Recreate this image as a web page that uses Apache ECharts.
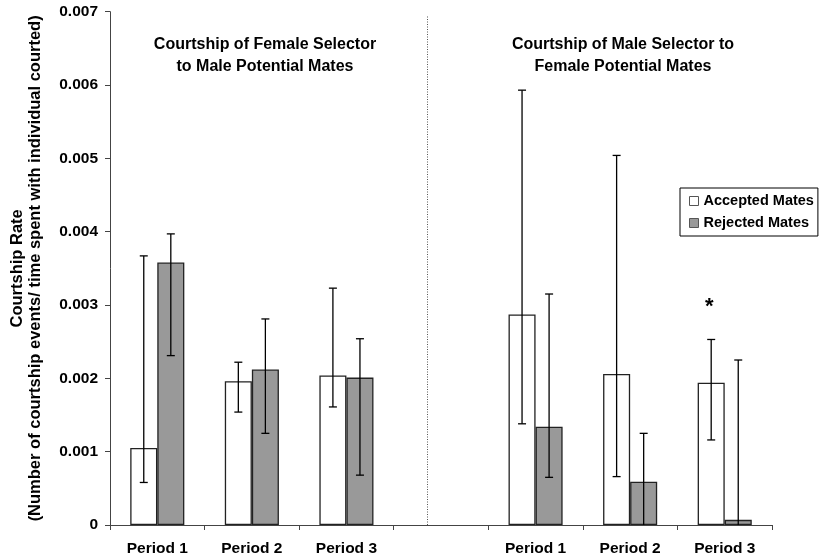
<!DOCTYPE html>
<html>
<head>
<meta charset="utf-8">
<script src="https://cdn.jsdelivr.net/npm/echarts@6/dist/echarts.min.js"></script>
<style>html,body{margin:0;padding:0;background:#fff}#c{width:824px;height:560px}</style>
</head>
<body>
<div id="c"></div>
<script>
const categories = ['Period 1','Period 2','Period 3','','Period 1','Period 2','Period 3'];
const accepted     = [0.00105, 0.00196, 0.00204, null, 0.00287, 0.00206, 0.00194];
const acceptedLow  = [0.00058, 0.00154, 0.00161, null, 0.00138, 0.00066, 0.00116];
const acceptedHigh = [0.00367, 0.00222, 0.00323, null, 0.00593, 0.00504, 0.00253];
const rejected     = [0.00358, 0.00212, 0.00201, null, 0.00134, 0.00059, 0.00007];
const rejectedLow  = [0.00231, 0.00125, 0.00068, null, 0.00065, 0, 0];
const rejectedHigh = [0.00397, 0.00281, 0.00254, null, 0.00315, 0.00125, 0.00225];
const seriesNames = ['Accepted Mates','Rejected Mates'];
const panelTitles = ['Courtship of Female Selector\nto Male Potential Mates','Courtship of Male Selector to\nFemale Potential Mates'];
const yName = 'Courtship Rate\n(Number of courtship events/ time spent with individual courted)';
const dividerIndex = 3;
const dividerTop = 0.00695;
const significance = {index: 6, value: 0.00303, text: '*'};

const FONT = '"Liberation Sans", Arial, sans-serif';
const BAR_FRAC = 0.286;

function errData(lo, hi){
  const out = [];
  for (let i = 0; i < lo.length; i++) if (lo[i] !== null) out.push([i, lo[i], hi[i]]);
  return out;
}
function errRender(sign){
  return function(params, api){
    const x = api.value(0), lo = api.value(1), hi = api.value(2);
    const band = api.size([1, 0])[0];
    const bw = band * BAR_FRAC;
    const cx = api.coord([x, 0])[0] + sign * bw / 2;
    const yLo = api.coord([x, lo])[1], yHi = api.coord([x, hi])[1];
    const cap = 4;
    const st = {stroke: '#000', lineWidth: 1.3};
    const ch = [
      {type: 'line', shape: {x1: cx, y1: yHi, x2: cx, y2: yLo}, style: st},
      {type: 'line', shape: {x1: cx - cap, y1: yHi, x2: cx + cap, y2: yHi}, style: st}
    ];
    if (lo > 0) ch.push({type: 'line', shape: {x1: cx - cap, y1: yLo, x2: cx + cap, y2: yLo}, style: st});
    return {type: 'group', children: ch};
  };
}

const chart = echarts.init(document.getElementById('c'), null, {renderer: 'canvas'});
chart.setOption({
  animation: false,
  backgroundColor: '#fff',
  textStyle: {fontFamily: FONT},
  grid: {left: 109, right: 52, top: 11.7, bottom: 35, containLabel: false},
  legend: {
    orient: 'vertical', left: 680, top: 188,
    padding: [5, 4, 5, 9], itemGap: 6, itemWidth: 9, itemHeight: 9,
    icon: 'rect',
    borderColor: '#000', borderWidth: 1,
    itemStyle: {borderColor: '#555', borderWidth: 1},
    textStyle: {fontFamily: FONT, fontWeight: 'bold', fontSize: 14.5, color: '#000', lineHeight: 16},
    data: seriesNames
  },
  xAxis: {
    type: 'category', data: categories,
    axisLine: {lineStyle: {color: '#444', width: 1}},
    axisTick: {show: true, alignWithLabel: false, length: 5, lineStyle: {color: '#444'}},
    axisLabel: {fontFamily: FONT, fontWeight: 'bold', fontSize: 15.5, color: '#000', margin: 16, interval: 0},
    splitLine: {show: false}
  },
  yAxis: {
    type: 'value', min: 0, max: 0.007, interval: 0.001,
    name: yName, nameLocation: 'middle', nameGap: 66, nameRotate: 90,
    nameTextStyle: {fontFamily: FONT, fontWeight: 'bold', fontSize: 16.5, color: '#000', lineHeight: 18, align: 'center'},
    axisLine: {show: true, lineStyle: {color: '#444', width: 1}},
    axisTick: {show: true, length: 5, lineStyle: {color: '#444'}},
    axisLabel: {fontFamily: FONT, fontWeight: 'bold', fontSize: 15.5, color: '#000', margin: 12},
    splitLine: {show: false}
  },
  graphic: [
    {type: 'text', x: 265, y: 34, style: {text: panelTitles[0], font: 'bold 16px ' + FONT, fill: '#000', textAlign: 'center', lineHeight: 22}},
    {type: 'text', x: 623, y: 34, style: {text: panelTitles[1], font: 'bold 16px ' + FONT, fill: '#000', textAlign: 'center', lineHeight: 22}}
  ],
  series: [
    {
      name: seriesNames[0], type: 'bar', data: accepted,
      barWidth: (BAR_FRAC * 100) + '%', barGap: '0%',
      itemStyle: {color: '#fff', borderColor: '#222', borderWidth: 1.3},
      markLine: {
        silent: true, symbol: 'none', label: {show: false},
        lineStyle: {type: [1, 1.5], color: '#555', width: 1},
        data: [[{coord: [dividerIndex, 0]}, {coord: [dividerIndex, dividerTop]}]]
      },
      markPoint: {
        symbol: 'circle', symbolSize: 1, itemStyle: {color: 'transparent'},
        label: {show: true, formatter: significance.text, fontFamily: FONT, fontWeight: 'bold', fontSize: 22, color: '#000', offset: [-2, 4]},
        data: [{coord: [significance.index, significance.value]}]
      }
    },
    {
      name: seriesNames[1], type: 'bar', data: rejected,
      barWidth: (BAR_FRAC * 100) + '%', barGap: '0%',
      itemStyle: {color: '#999999', borderColor: '#222', borderWidth: 1.3}
    },
    {type: 'custom', renderItem: errRender(-1), data: errData(acceptedLow, acceptedHigh), z: 5, encode: {x: 0, y: [1, 2]}},
    {type: 'custom', renderItem: errRender(1), data: errData(rejectedLow, rejectedHigh), z: 5, encode: {x: 0, y: [1, 2]}}
  ]
});
</script>
</body>
</html>
